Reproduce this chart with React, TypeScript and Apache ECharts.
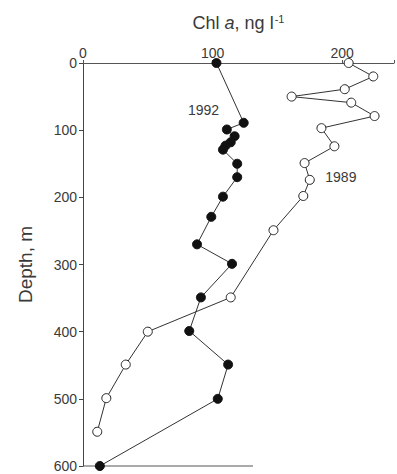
import React, { useEffect, useRef } from "react";
import * as echarts from "echarts";

const depth1992 = [0, 89, 99, 109, 118, 123, 129, 150, 170, 199, 229, 270, 299, 349, 399, 449, 500, 600];
const chl1992 = [103, 124, 111, 117, 114, 110, 108, 119, 119, 108, 99, 88, 115, 91, 82, 112, 104, 13];
const depth1989 = [0, 20, 39, 50, 59, 79, 97, 124, 149, 174, 198, 249, 349, 400, 449, 499, 549];
const chl1989 = [205, 224, 202, 161, 207, 225, 184, 194, 171, 175, 170, 147, 114, 50, 33, 18, 11];
const depthTicks = [0, 100, 200, 300, 400, 500, 600];
const chlTicks = [0, 100, 200];

const FONT = "Liberation Sans, Arial, sans-serif";
const TXT = "#3a3a3a";

export default function App() {
  const ref = useRef<HTMLDivElement>(null);
  useEffect(() => {
    if (!ref.current) return;
    const chart = echarts.init(ref.current, null, { renderer: "svg" });
    const d92 = chl1992.map((v, i) => [v, depth1992[i]]);
    const d89 = chl1989.map((v, i) => [v, depth1989[i]]);
    chart.setOption({
      animation: false,
      backgroundColor: "#fff",
      textStyle: { fontFamily: FONT },
      grid: { left: 83, top: 63, right: 0, bottom: 8, containLabel: false },
      xAxis: {
        type: "value",
        position: "top",
        min: 0,
        max: 240,
        interval: 100,
        splitLine: { show: false },
        axisLine: { show: true, lineStyle: { color: "#555", width: 1 } },
        axisTick: { show: true, length: 3, lineStyle: { color: "#555" } },
        axisLabel: {
          color: TXT,
          fontSize: 14,
          fontFamily: FONT,
          margin: 3,
          formatter: (v: number) => (chlTicks.includes(v) ? String(v) : ""),
        },
        name: "{n|Chl }{i|a}{n|, ng l}{s|-1}",
        nameLocation: "middle",
        nameGap: 30,
        nameTextStyle: {
          rich: {
            n: { fontSize: 18, color: TXT, fontFamily: FONT },
            i: { fontSize: 18, color: TXT, fontFamily: FONT, fontStyle: "italic" },
            s: { fontSize: 11, color: TXT, fontFamily: FONT, verticalAlign: "top", padding: [0, 0, 9, 1] },
          },
        },
      },
      yAxis: {
        type: "value",
        inverse: true,
        min: 0,
        max: 600,
        interval: 100,
        splitLine: { show: false },
        axisLine: { show: true, lineStyle: { color: "#444", width: 1 } },
        axisTick: { show: true, inside: false, length: 4, lineStyle: { color: "#444" } },
        axisLabel: {
          color: TXT,
          fontSize: 14,
          fontFamily: FONT,
          margin: 6,
          formatter: (v: number) => (depthTicks.includes(v) ? String(v) : ""),
        },
        name: "Depth, m",
        nameLocation: "middle",
        nameGap: 48,
        nameTextStyle: { fontSize: 19, color: TXT, fontFamily: FONT },
      },
      graphic: [
        {
          type: "line",
          shape: { x1: 83, y1: 466, x2: 253, y2: 466 },
          style: { stroke: "#555", lineWidth: 1 },
        },
      ],
      series: [
        {
          name: "1992",
          type: "line",
          data: d92,
          symbol: "circle",
          symbolSize: 9,
          lineStyle: { color: "#333", width: 1 },
          itemStyle: { color: "#111", borderColor: "#111", borderWidth: 1 },
          z: 3,
          markPoint: {
            symbol: "circle",
            symbolSize: 0,
            data: [{ coord: [93, 70], value: "1992" }],
            label: { show: true, color: TXT, fontSize: 14, fontFamily: FONT, formatter: "1992", position: "inside" },
          },
        },
        {
          name: "1989",
          type: "line",
          data: d89,
          symbol: "circle",
          symbolSize: 9,
          lineStyle: { color: "#333", width: 1 },
          itemStyle: { color: "#fff", borderColor: "#222", borderWidth: 1 },
          z: 2,
          markPoint: {
            symbol: "circle",
            symbolSize: 0,
            data: [{ coord: [199, 170], value: "1989" }],
            label: { show: true, color: TXT, fontSize: 14, fontFamily: FONT, formatter: "1989", position: "inside" },
          },
        },
      ],
    });
    return () => chart.dispose();
  }, []);
  return <div ref={ref} style={{ width: 397, height: 474, position: "absolute", left: 0, top: 0 }} />;
}
